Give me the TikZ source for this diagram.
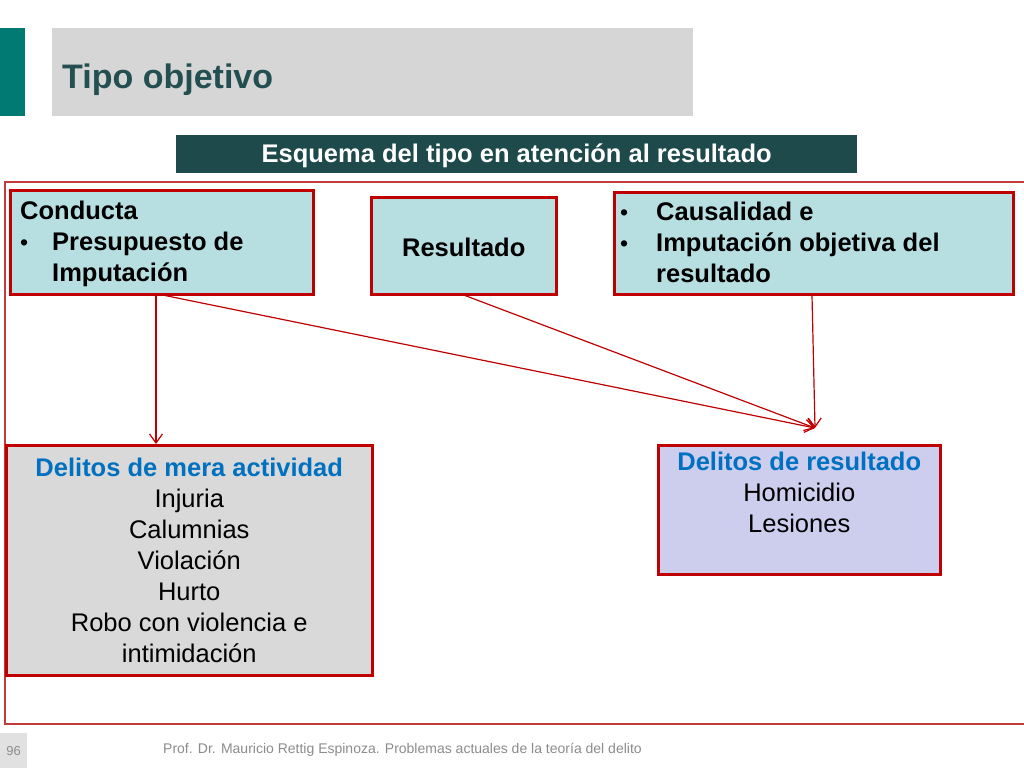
\documentclass[tikz,border=0pt]{standalone}
\usepackage{fontspec}
\setmainfont{Liberation Sans}
\usetikzlibrary{arrows.meta}
\definecolor{tealbar}{HTML}{007A72}
\definecolor{titlegray}{HTML}{D6D6D6}
\definecolor{titletext}{HTML}{234F50}
\definecolor{headfill}{HTML}{1E4A4C}
\definecolor{boxcyan}{HTML}{B7DEE0}
\definecolor{boxgray}{HTML}{D9D9D9}
\definecolor{boxlav}{HTML}{CDCDEE}
\definecolor{boxred}{HTML}{C00000}
\definecolor{framered}{HTML}{C23B3B}
\definecolor{bluetext}{HTML}{0070C0}
\definecolor{foot}{HTML}{8C8C8C}
\newcommand{\bul}[1]{\makebox[#1][l]{\fontsize{23}{31}\selectfont\mdseries •}}
\begin{document}
\begin{tikzpicture}[x=1pt,y=-1pt,
  redbox/.style={draw=boxred,line width=2.5pt,anchor=north west,inner sep=0pt},
  boxtext/.style={inner sep=0pt,font=\fontsize{25.5}{31}\selectfont},
  conn/.style={draw=boxred,line width=1.2pt,-{Straight Barb[length=9pt,width=13pt,line width=1.2pt]}}]
\useasboundingbox (0,0) rectangle (1024,768);
\fill[white] (0,0) rectangle (1024,768);
% title area
\fill[tealbar] (0,28) rectangle (25,116);
\node[fill=titlegray,anchor=north west,minimum width=641pt,minimum height=88pt,inner sep=0pt] (titlebox) at (52,28) {};
\node[anchor=base west,text=titletext,font=\fontsize{34}{40}\selectfont\bfseries,inner sep=0pt] (title) at (62,88) {Tipo objetivo};
% header
\node[fill=headfill,anchor=north west,minimum width=681pt,minimum height=38pt,inner sep=0pt] (head) at (176,135) {};
\node[boxtext,text=white,font=\fontsize{25.5}{28}\selectfont\bfseries] (headtext) at ([yshift=-2pt]head.center) {Esquema del tipo en atención al resultado};
% frame
\draw[framered,line width=1.3pt] (1030,182) -- (5,182) -- (5,724) -- (1030,724);
% boxes
\node[redbox,fill=boxcyan,minimum width=303pt,minimum height=104pt] (conducta) at (9,189) {};
\node[boxtext,anchor=west,font=\fontsize{25.5}{31}\selectfont\bfseries] (conductatext) at (20,244) {\begin{tabular}{@{}l@{}l@{}}
\multicolumn{2}{@{}l@{}}{Conducta}\\
\bul{32pt} & Presupuesto de\\
 & Imputación
\end{tabular}};
\node[redbox,fill=boxcyan,minimum width=185pt,minimum height=97pt] (resultado) at (370,196) {};
\node[boxtext,font=\fontsize{25.5}{31}\selectfont\bfseries] (resultadotext) at ([yshift=-2pt]resultado.center) {Resultado};
\node[redbox,fill=boxcyan,minimum width=399pt,minimum height=102pt] (causal) at (613,191) {};
\node[boxtext,anchor=west,font=\fontsize{25.5}{31}\selectfont\bfseries] (causaltext) at (620,245) {\begin{tabular}{@{}l@{}l@{}}
\bul{36pt} & Causalidad e\\
\bul{36pt} & Imputación objetiva del\\
 & resultado
\end{tabular}};
\node[redbox,fill=boxgray,minimum width=366pt,minimum height=230pt] (mera) at (5,444) {};
\node[boxtext] (meratext) at ([yshift=-3pt]mera.center) {\begin{tabular}{@{}c@{}}
\textcolor{bluetext}{\bfseries Delitos de mera actividad}\\
Injuria\\ Calumnias\\ Violación\\ Hurto\\ Robo con violencia e\\ intimidación
\end{tabular}};
\node[redbox,fill=boxlav,minimum width=282pt,minimum height=129pt] (delres) at (657,444) {};
\node[boxtext,anchor=north] (delrestext) at ([yshift=-5pt]delres.north) {\begin{tabular}{@{}c@{}}
\textcolor{bluetext}{\bfseries Delitos de resultado}\\
Homicidio\\ Lesiones
\end{tabular}};
% connectors
\coordinate (conv) at (815,428);
\draw[conn] ([xshift=147pt]conducta.south west) -- ([xshift=151pt]mera.north west);
\draw[conn] ([xshift=156pt]conducta.south west) -- (conv);
\draw[conn] ([xshift=95pt]resultado.south west) -- (conv);
\draw[conn] ([xshift=199pt]causal.south west) -- (conv);
% footer
\node[fill=boxgray!80,anchor=north west,minimum width=27pt,minimum height=35pt,inner sep=0pt,text=foot,font=\fontsize{13}{15}\selectfont] (pagenum) at (0,733) {96};
\node[anchor=base west,inner sep=0pt,text=foot,font=\fontsize{14}{16}\selectfont] (footer) at (163,753) {Prof. Dr. Mauricio Rettig Espinoza. Problemas actuales de la teoría del delito};
\end{tikzpicture}
\end{document}
